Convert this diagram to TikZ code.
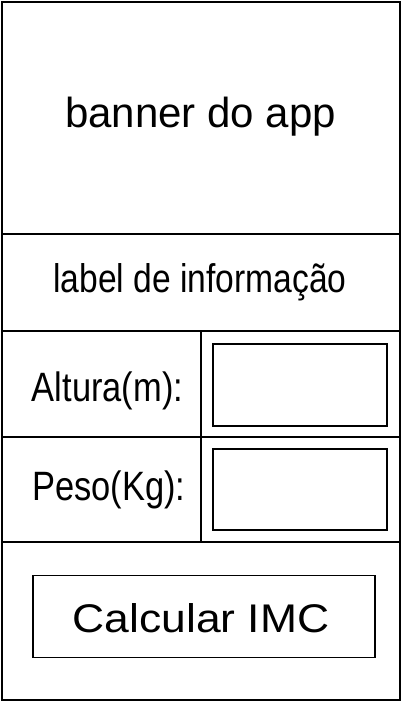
\documentclass[tikz,border=0pt]{standalone}
\usepackage{fontspec}
\setmainfont{Liberation Sans}
\newfontfamily\narrowfont[FakeStretch=0.84]{Liberation Sans}
\newfontfamily\wideFont[FakeStretch=1.11]{Liberation Sans}
\tikzset{
  frame/.style={draw=black,line width=2pt},
  field/.style={draw=black,line width=2pt},
  caption/.style={anchor=base,inner sep=0pt,font=\fontsize{41}{48}\selectfont},
  narrowcaption/.style={anchor=base,inner sep=0pt,font=\narrowfont\fontsize{40}{48}\selectfont}
}
\begin{document}
\begin{tikzpicture}[x=1pt,y=-1pt]
\useasboundingbox (0,0) rectangle (402,702);
% OUTER FRAME
\draw [frame] (2,1.5) rectangle (400,700);
% ROW DIVIDERS
\draw [frame] (2,233.5) -- (400,233.5);
\draw [frame] (2,331) -- (400,331);
\draw [frame] (2,437) -- (400,437);
\draw [frame] (2,542) -- (400,542);
\draw [frame] (201,331) -- (201,542);
% INPUT FIELDS
\draw [field] (213,344) rectangle (387,425.5);
\draw [field] (213,448.5) rectangle (387,530);
% BUTTON
\draw [line width=1.5pt] (33,575.5) rectangle (375,657.5);
% TEXTS
\node [caption,font=\fontsize{42}{48}\selectfont] (banner) at (200.5,127) {banner do app};
\node [narrowcaption] (info) at (200,292) {label de informação};
\node [narrowcaption,font=\narrowfont\fontsize{41}{48}\selectfont] (altura) at (107.5,401) {Altura(m):};
\node [narrowcaption,font=\narrowfont\fontsize{41}{48}\selectfont] (peso) at (109,500) {Peso(Kg):};
\node [anchor=base,inner sep=0pt,font=\wideFont\fontsize{40}{48}\selectfont] (calcular) at (201,632) {Calcular IMC};
\end{tikzpicture}
\end{document}
